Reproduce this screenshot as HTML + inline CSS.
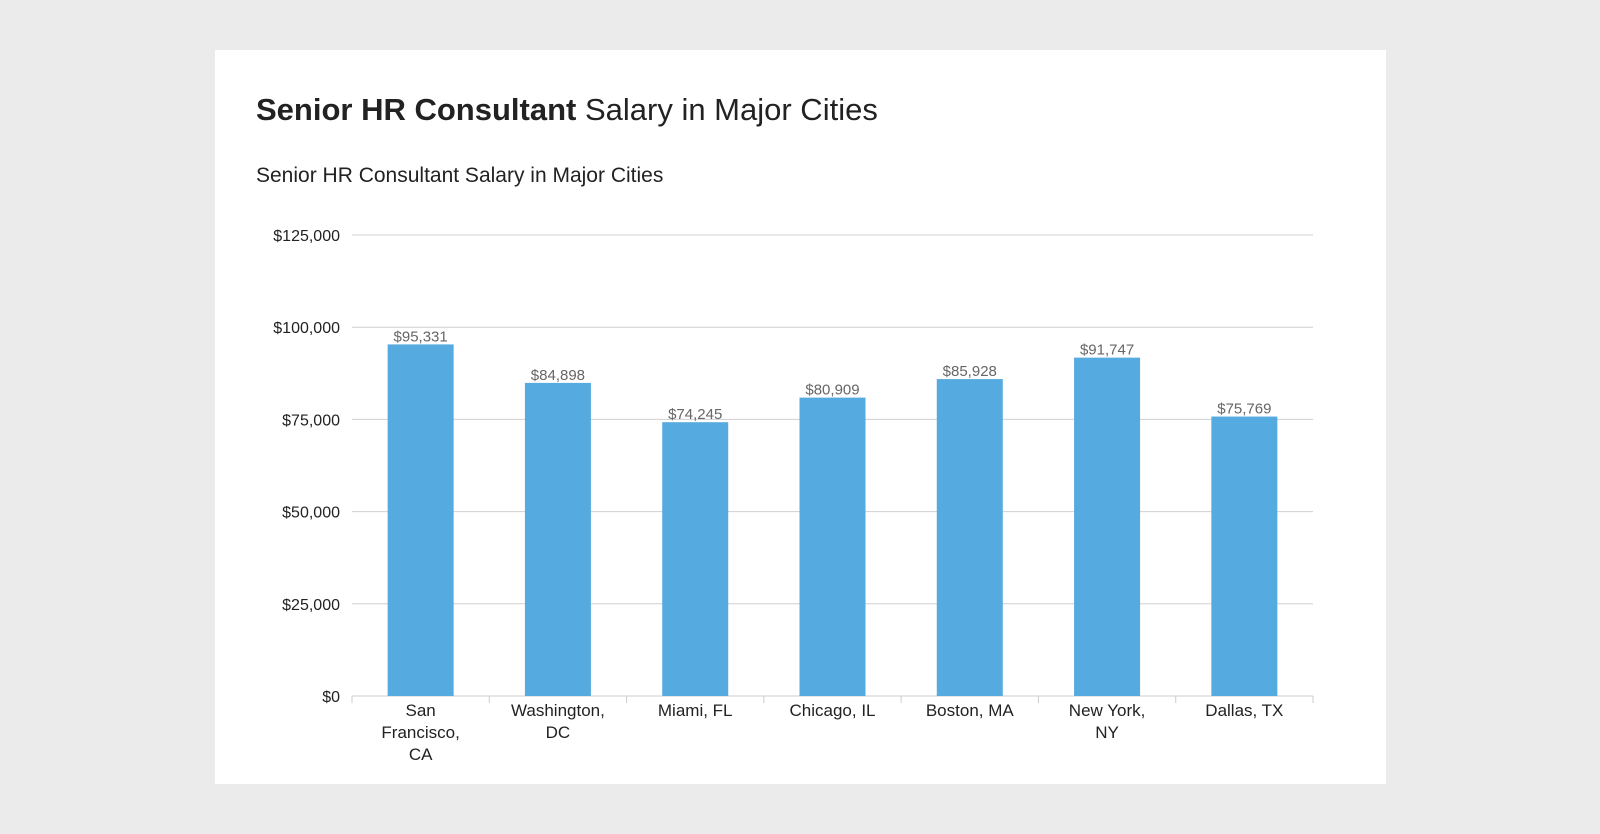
<!DOCTYPE html>
<html><head><meta charset="utf-8"><style>
body{margin:0;width:1600px;height:834px;background:#ebebeb;font-family:"Liberation Sans",sans-serif;overflow:hidden}
#card{position:absolute;left:215px;top:50px;width:1171px;height:734px;background:#fff}
</style></head><body>
<div id="card"></div>
<svg width="1600" height="834" style="position:absolute;left:0;top:0">
<text x="256" y="120" font-size="31" fill="#222"><tspan font-weight="bold">Senior HR Consultant</tspan> Salary in Major Cities</text>
<text x="256" y="182" font-size="21" fill="#222">Senior HR Consultant Salary in Major Cities</text>
<g id="grid"></g><g id="bars"></g><g id="labels"></g>
</svg>
<script>
const categories=[["San","Francisco,","CA"],["Washington,","DC"],["Miami, FL"],["Chicago, IL"],["Boston, MA"],["New York,","NY"],["Dallas, TX"]];
const values=[95331,84898,74245,80909,85928,91747,75769];
const valueLabels=["$95,331","$84,898","$74,245","$80,909","$85,928","$91,747","$75,769"];
const ticks=[0,25000,50000,75000,100000,125000];
const tickLabels=["$0","$25,000","$50,000","$75,000","$100,000","$125,000"];
const NS="http://www.w3.org/2000/svg";
const x0=352,x1=1313,yb=696,yt=235,maxV=125000;
const y=v=>yb-(v/maxV)*(yb-yt);
const bw=(x1-x0)/categories.length;
const xc=i=>x0+bw*(i+0.5);
function mk(t,a,p){const e=document.createElementNS(NS,t);for(const k in a)e.setAttribute(k,a[k]);p.appendChild(e);return e;}
const g=document.getElementById('grid'),b=document.getElementById('bars'),l=document.getElementById('labels');
ticks.forEach((t,i)=>{
 const ln=mk('line',{x1:x0,x2:x1,y1:y(t),y2:y(t),stroke:t===0?'#ccc':'#d0d0d0','stroke-width':1},g);
 
 
 const tx=mk('text',{x:340,y:y(t)+6,'text-anchor':'end','font-size':16,fill:'#222'},g);
 tx.textContent=tickLabels[i];
 
 
});
for(let i=0;i<=categories.length;i++){
 const tk=mk('line',{x1:x0+bw*i,x2:x0+bw*i,y1:yb,y2:yb+7,stroke:'#ccc'},g);
 
 
}
values.forEach((v,i)=>{
 const r=mk('rect',{x:xc(i)-33,y:y(v),width:66,height:yb-y(v),fill:'#55aadf'},b);
 
 
 const t=mk('text',{x:xc(i),y:y(v)-3,'text-anchor':'middle','font-size':15,fill:'#666'},l);
 t.textContent=valueLabels[i];
 
 
 categories[i].forEach((s,j)=>{
  const c=mk('text',{x:xc(i),y:716+j*22,'text-anchor':'middle','font-size':17,fill:'#222'},l);
  c.textContent=s;
  
  
 });
});
</script>
</body></html>
